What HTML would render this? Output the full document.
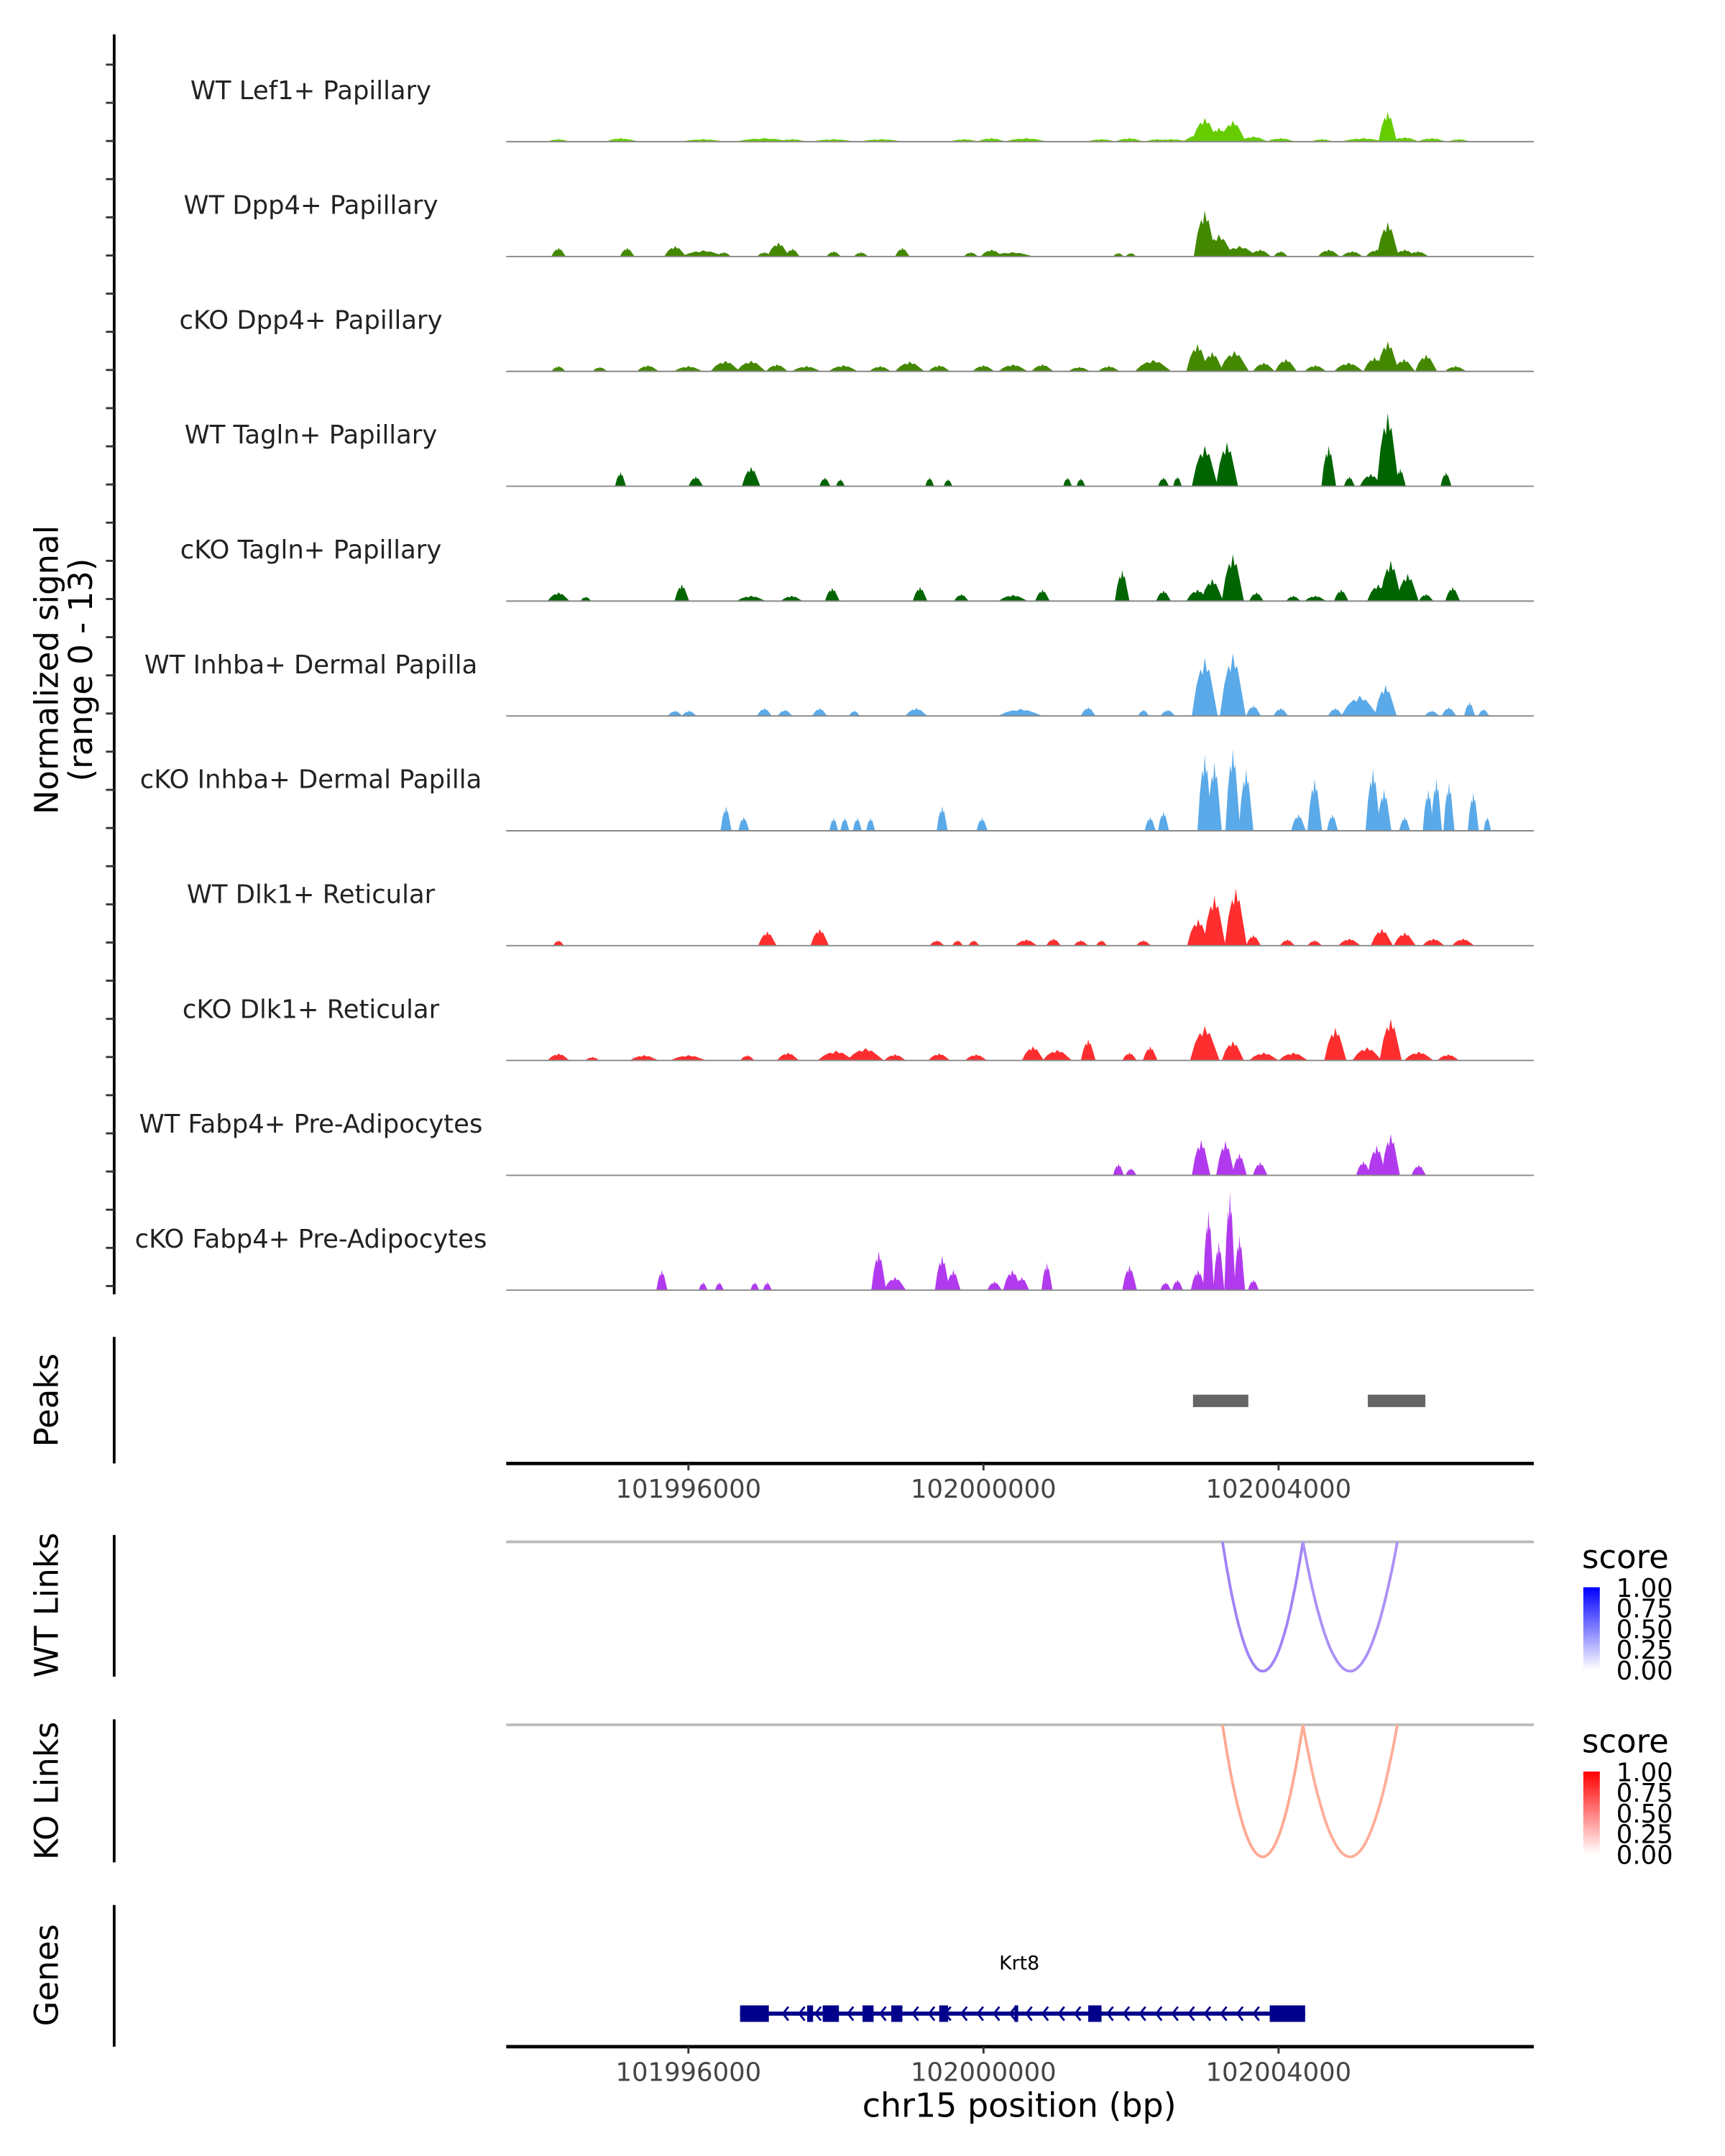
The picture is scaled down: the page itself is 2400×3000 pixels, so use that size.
<!DOCTYPE html>
<html><head><meta charset="utf-8"><style>
html,body{margin:0;padding:0;background:#fff;}
svg{display:block;font-family:"DejaVu Sans","Liberation Sans",sans-serif;}
</style></head><body>
<svg id="chart" xmlns="http://www.w3.org/2000/svg" width="2400" height="3000" viewBox="0 0 1254 1567.5">
<rect x="0" y="0" width="1254" height="1567.5" fill="#fff"/>
<g id="tracks"></g>
<line x1="83" y1="25" x2="83" y2="941" stroke="#000" stroke-width="2"/>
<g id="yticks"></g>
<text transform="translate(42,487) rotate(-90)" text-anchor="middle" font-size="23.5" fill="#000">Normalized signal</text>
<text transform="translate(67,487) rotate(-90)" text-anchor="middle" font-size="23.5" fill="#000">(range 0 - 13)</text>

<line x1="83" y1="972" x2="83" y2="1064" stroke="#000" stroke-width="2"/>
<text transform="translate(42,1018) rotate(-90)" text-anchor="middle" font-size="23.5">Peaks</text>
<g id="peaks"></g>
<g id="xaxis1"></g>

<line x1="83" y1="1116" x2="83" y2="1219" stroke="#000" stroke-width="2"/>
<text transform="translate(42,1167) rotate(-90)" text-anchor="middle" font-size="23.5">WT Links</text>
<line x1="83" y1="1250" x2="83" y2="1354" stroke="#000" stroke-width="2"/>
<text transform="translate(42,1302) rotate(-90)" text-anchor="middle" font-size="23.5">KO Links</text>
<g id="links"></g>

<defs>
<linearGradient id="gBlue" x1="0" y1="1" x2="0" y2="0"><stop offset="0" stop-color="#ffffff"/><stop offset="1" stop-color="#0000ff"/></linearGradient>
<linearGradient id="gRed" x1="0" y1="1" x2="0" y2="0"><stop offset="0" stop-color="#ffffff"/><stop offset="1" stop-color="#ff0000"/></linearGradient>
</defs>
<g>
<text x="1150" y="1140" font-size="23.5">score</text>
<rect x="1151" y="1154" width="12" height="60" fill="url(#gBlue)"/>
<g font-size="18.5"><text x="1175" y="1161">1.00</text><text x="1175" y="1176">0.75</text><text x="1175" y="1191">0.50</text><text x="1175" y="1206">0.25</text><text x="1175" y="1221">0.00</text></g>
</g>
<g>
<text x="1150" y="1274" font-size="23.5">score</text>
<rect x="1151" y="1288" width="12" height="60" fill="url(#gRed)"/>
<g font-size="18.5"><text x="1175" y="1295">1.00</text><text x="1175" y="1310">0.75</text><text x="1175" y="1325">0.50</text><text x="1175" y="1340">0.25</text><text x="1175" y="1355">0.00</text></g>
</g>

<line x1="83" y1="1385" x2="83" y2="1488" stroke="#000" stroke-width="2"/>
<text transform="translate(42,1436) rotate(-90)" text-anchor="middle" font-size="23.5">Genes</text>
<g id="genes"></g>
<g id="xaxis2"></g>
<text x="741" y="1539" text-anchor="middle" font-size="24">chr15 position (bp)</text>
</svg>
<script>
// positions are kb relative to chr15:102,000,000
const ORIGIN = 102000000;
const trackNames = ["WT Lef1+ Papillary","WT Dpp4+ Papillary","cKO Dpp4+ Papillary","WT Tagln+ Papillary","cKO Tagln+ Papillary","WT Inhba+ Dermal Papilla","cKO Inhba+ Dermal Papilla","WT Dlk1+ Reticular","cKO Dlk1+ Reticular","WT Fabp4+ Pre-Adipocytes","cKO Fabp4+ Pre-Adipocytes"];
const trackColors = ["#66cc00","#448800","#448800","#006400","#006400","#5aa9e8","#5aa9e8","#ff2e2e","#ff2e2e","#b23aee","#b23aee"];
// each entry: [centerKb, widthKb, signal]
const sigLef1WT = [[-5.76,.3,.3],[-4.92,.4,.4],[-4.83,.3,.3],[-3.80,.6,.3],[-2.97,.8,.4],[-2.59,.4,.3],[-2.03,.6,.3],[-1.38,.6,.3],[-0.26,.4,.3],[0.11,.4,.4],[0.58,.6,.4],[1.60,.4,.3],[1.98,.4,.4],[2.35,.3,.3],[2.54,.5,.3],[3.0,.6,1],[3.00,.35,2.7],[3.19,.3,1.6],[3.38,.35,2.4],[3.66,.4,.6],[4.03,.4,.4],[4.59,.3,.3],[5.15,.6,.4],[5.48,.25,3.4],[5.71,.4,.5],[6.08,.4,.4],[6.45,.3,.3]];
const sigDpp4WT = [[-5.76,.2,1],[-4.83,.2,1],[-4.18,.3,1.2],[-3.80,.6,.7],[-3.52,.2,.5],[-2.97,.2,.5],[-2.78,.3,1.6],[-2.59,.2,.9],[-2.03,.2,.6],[-1.66,.2,.5],[-1.10,.2,1],[-0.17,.2,.5],[0.11,.3,.8],[0.39,.6,.5],[1.83,.15,.4],[2.0,.15,.4],[3.0,.3,5.2],[3.19,.4,2.5],[3.47,.5,1.2],[3.75,.3,.8],[4.03,.2,.6],[4.68,.3,.8],[5.0,.3,.6],[5.33,.3,.8],[5.48,.3,3.9],[5.71,.3,.8],[5.89,.3,.6]];
const sigDpp4KO = [[-5.76,.2,.6],[-5.2,.2,.5],[-4.55,.3,.7],[-4.0,.4,.6],[-3.5,.4,1.2],[-3.15,.4,1.2],[-2.8,.3,.8],[-2.4,.4,.6],[-1.9,.4,.7],[-1.4,.3,.6],[-1.0,.4,1.1],[-0.6,.3,.7],[0.0,.3,.7],[0.4,.4,.8],[0.8,.3,.8],[1.3,.3,.5],[1.7,.3,.6],[2.3,.5,1.3],[2.9,.3,3.1],[3.1,.3,2.2],[3.4,.4,2.3],[3.8,.3,1.0],[4.1,.3,1.4],[4.5,.3,.7],[4.95,.4,1.0],[5.3,.3,1.6],[5.48,.3,3.4],[5.7,.3,1.4],[6.0,.3,1.9],[6.4,.3,.6]];
const sigTaglnWT = [[-4.92,.15,1.6],[-3.90,.2,1.1],[-3.15,.25,2.2],[-2.15,.15,1],[-1.94,.12,.8],[-0.73,.12,1],[-0.48,.12,.8],[1.14,.12,1],[1.32,.12,.9],[2.44,.15,1],[2.63,.12,1.1],[3.0,.35,4.6],[3.3,.3,5],[4.68,.2,4.6],[4.96,.15,1.1],[5.25,.3,1.4],[5.48,.3,8.3],[5.65,.15,2],[6.27,.15,1.6]];
const sigTaglnKO = [[-5.76,.3,1],[-5.39,.15,.5],[-4.09,.2,1.9],[-3.15,.4,.6],[-2.6,.3,.6],[-2.05,.2,1.5],[-0.86,.2,1.6],[-0.3,.2,.8],[0.4,.4,.7],[0.8,.2,1.3],[1.88,.2,3.5],[2.44,.2,1.2],[2.9,.3,1.3],[3.1,.3,2.5],[3.38,.3,5.3],[3.7,.2,1],[4.2,.2,.6],[4.5,.3,.6],[4.85,.2,1.3],[5.35,.3,1.9],[5.52,.3,4.6],[5.75,.3,3.1],[6.0,.2,.8],[6.36,.2,1.6]];
const sigInhbaWT = [[-4.18,.2,.6],[-3.99,.2,.6],[-2.97,.2,.9],[-2.69,.2,.7],[-2.22,.2,.9],[-1.75,.15,.6],[-0.91,.3,.9],[0.5,.6,.8],[1.42,.2,1],[2.17,.15,.7],[2.5,.2,.7],[3.0,.35,6.6],[3.38,.35,7.1],[3.66,.2,1.2],[4.03,.2,.9],[4.77,.2,.9],[5.1,.5,2.3],[5.45,.3,3.5],[6.08,.2,.6],[6.31,.2,1],[6.59,.15,1.6],[6.78,.15,.8]];
const sigInhbaKO = [[-3.49,.15,2.8],[-3.25,.15,1.6],[-2.03,.12,1.5],[-1.88,.12,1.5],[-1.71,.12,1.5],[-1.53,.12,1.5],[-0.56,.15,2.8],[-0.02,.15,1.5],[2.26,.15,1.6],[2.44,.15,2.2],[3.0,.2,8.6],[3.13,.2,7.8],[3.38,.2,9.3],[3.56,.2,7],[4.27,.2,1.9],[4.49,.2,5.9],[4.73,.15,1.9],[5.28,.2,7],[5.43,.2,4.7],[5.71,.15,1.6],[6.03,.15,4.7],[6.14,.15,5.9],[6.31,.15,5.5],[6.64,.15,4.4],[6.83,.1,1.6]];
const sigDlk1WT = [[-5.76,.15,.6],[-2.93,.25,1.6],[-2.22,.25,1.9],[-0.63,.2,.6],[-0.35,.15,.6],[-0.13,.15,.6],[0.58,.3,.7],[0.95,.2,.8],[1.32,.2,.6],[1.6,.15,.6],[2.17,.2,.6],[2.91,.3,3],[3.13,.3,5.6],[3.42,.3,6.5],[3.66,.2,1.2],[4.12,.2,.7],[4.49,.2,.6],[4.96,.3,.8],[5.4,.3,1.9],[5.71,.3,1.5],[6.1,.3,.8],[6.5,.3,.8]];
const sigDlk1KO = [[-5.76,.3,.8],[-5.3,.2,.4],[-4.6,.4,.6],[-4.0,.5,.6],[-3.2,.2,.6],[-2.65,.3,.9],[-2.0,.5,1.1],[-1.6,.5,1.4],[-1.2,.3,.7],[-0.6,.3,.8],[-0.1,.3,.7],[0.67,.3,1.6],[1.0,.4,1.2],[1.42,.2,2.4],[1.98,.2,.9],[2.26,.2,1.6],[3.0,.4,3.9],[3.38,.3,2.2],[3.8,.4,.9],[4.2,.4,.9],[4.77,.3,3.7],[5.2,.4,1.5],[5.52,.3,4.7],[5.9,.4,1],[6.3,.3,.7]];
const sigFabp4WT = [[1.83,.15,1.3],[2.0,.15,.8],[2.95,.25,4],[3.28,.25,3.9],[3.47,.2,2.5],[3.75,.2,1.5],[5.15,.2,1.6],[5.33,.25,3.4],[5.52,.25,4.7],[5.9,.2,1.2]];
const sigFabp4KO = [[-4.36,.15,2.3],[-3.8,.12,.9],[-3.58,.12,.9],[-3.1,.12,.9],[-2.93,.12,.9],[-1.42,.2,4.4],[-1.2,.3,1.5],[-0.56,.2,3.9],[-0.41,.2,2.3],[0.15,.2,1],[0.39,.25,2.3],[0.52,.2,1.5],[0.86,.15,3.1],[1.98,.2,2.8],[2.47,.15,.9],[2.63,.15,1.2],[2.91,.2,2.3],[3.05,.15,9],[3.19,.15,5.5],[3.34,.15,11.2],[3.47,.15,6.2],[3.66,.15,1.2]];
const allSignals = [sigLef1WT,sigDpp4WT,sigDpp4KO,sigTaglnWT,sigTaglnKO,sigInhbaWT,sigInhbaKO,sigDlk1WT,sigDlk1KO,sigFabp4WT,sigFabp4KO];
const peakRanges = [[2.84,3.59],[5.21,5.99]];
const tickPositionsKb = [-4,0,4];
const tickLabels = ["101996000","102000000","102004000"];
const wtLinks = [[3.24,4.33,0.55],[4.33,5.61,0.42]];
const koLinks = [[3.24,4.33,0.45],[4.33,5.61,0.4]];
const geneName = "Krt8";
const geneSpan = [-3.30,4.36];
const exons = [[-3.30,-2.91],[-2.39,-2.31],[-2.18,-1.96],[-1.64,-1.49],[-1.25,-1.10],[-0.60,-0.48],[0.42,0.47],[1.42,1.60],[3.88,4.36]];

const NS="http://www.w3.org/2000/svg";
const xMinKb=-6.47, xMaxKb=7.46, X0=368, X1=1115;
function x(kb){return X0+(kb-xMinKb)/(xMaxKb-xMinKb)*(X1-X0);}
const TRACK0=103, TRACKSTEP=83.5, PXPERUNIT=83.5/13;
function y(base,v){return base-v*PXPERUNIT;}
function mk(tag,attrs,parent){const e=document.createElementNS(NS,tag);for(const k in attrs)e.setAttribute(k,attrs[k]);parent.appendChild(e);return e;}

const tracks=document.getElementById('tracks');
allSignals.forEach((sig,i)=>{
  const base=TRACK0+i*TRACKSTEP;
  const g=mk('g',{},tracks);
  
  
  const t=mk('text',{x:226,y:base-31,'text-anchor':'middle','font-size':'18.5',fill:'#222'},g);
  t.textContent=trackNames[i];
  
  
  sig.forEach(b=>{
    const [c,w,v]=b;
    const pts=[[c-w/2,0],[c-w/3,v*0.5],[c-w/6,v*0.8],[c-w/12,v*0.7],[c,v],[c+w/12,v*0.75],[c+w/6,v*0.8],[c+w/3,v*0.4],[c+w/2,0]];
    const p=mk('polygon',{points:pts.map(q=>x(q[0]).toFixed(1)+','+y(base,q[1]).toFixed(1)).join(' '),fill:trackColors[i]},g);
    
    
  });
  const bl=mk('line',{x1:X0,x2:X1,y1:base,y2:base,stroke:'#888','stroke-width':1},g);
  
  
});
const yt=document.getElementById('yticks');
for(let i=0;i<33;i++){const yy=47+i*27.75;const l=mk('line',{x1:77,x2:83,y1:yy,y2:yy,stroke:'#333','stroke-width':1.5},yt);
  
  }

const pk=document.getElementById('peaks');
peakRanges.forEach(r=>{const e=mk('rect',{x:x(r[0]),y:1014,width:x(r[1])-x(r[0]),height:9,fill:'#666'},pk);
  
  });

function xaxis(id,yy){const g=document.getElementById(id);
  const l=mk('line',{x1:X0,x2:X1,y1:yy,y2:yy,stroke:'#000','stroke-width':2.5},g);
  
  
  tickPositionsKb.forEach((t,i)=>{
    const tk=mk('line',{x1:x(t),x2:x(t),y1:yy,y2:yy+5,stroke:'#333','stroke-width':1.5},g);
    
    
    const tx=mk('text',{x:x(t),y:yy+25,'text-anchor':'middle','font-size':'18.5',fill:'#444'},g);
    tx.textContent=tickLabels[i];
    
    
  });}
xaxis('xaxis1',1064); xaxis('xaxis2',1488);

function blend(c,s){return 'rgb('+c.map(v=>Math.round(255+(v-255)*s)).join(',')+')';}
const lk=document.getElementById('links');
function drawLinks(data,top,depth,rgb,name){
  const gl=mk('line',{x1:X0,x2:X1,y1:top,y2:top,stroke:'#bbb','stroke-width':2},lk);
  
  
  data.forEach(d=>{
    const a=x(d[0]),b=x(d[1]);let pts=[];
    for(let k=0;k<=40;k++){const t=k/40;const xx=a+(b-a)*t;const yy=top+depth*4*t*(1-t);pts.push(xx.toFixed(1)+','+yy.toFixed(1));}
    const p=mk('polyline',{points:pts.join(' '),fill:'none',stroke:blend(rgb,0.3+0.5*d[2]),'stroke-width':2},lk);
    
    
  });}
drawLinks(wtLinks,1121,94,[90,40,240],'wt-link');
drawLinks(koLinks,1254,96,[255,90,50],'ko-link');

const gn=document.getElementById('genes');
const gt=mk('text',{x:741,y:1432,'text-anchor':'middle','font-size':'14','fill':'#000'},gn);
gt.textContent=geneName;


const gl=mk('line',{x1:x(geneSpan[0]),x2:x(geneSpan[1]),y1:1464,y2:1464,stroke:'#00008b','stroke-width':3},gn);


for(let kb=geneSpan[0]+0.6;kb<geneSpan[1]-0.3;kb+=0.22){const xx=x(kb);
  const ch=mk('polyline',{points:(xx+3)+',1459 '+(xx-1)+',1464 '+(xx+3)+',1469',fill:'none',stroke:'#00008b','stroke-width':1.5},gn);
  
  }
exons.forEach(e=>{const r=mk('rect',{x:x(e[0]),y:1458,width:Math.max(2,x(e[1])-x(e[0])),height:12,fill:'#00008b'},gn);
  
  });
</script>
</body></html>
